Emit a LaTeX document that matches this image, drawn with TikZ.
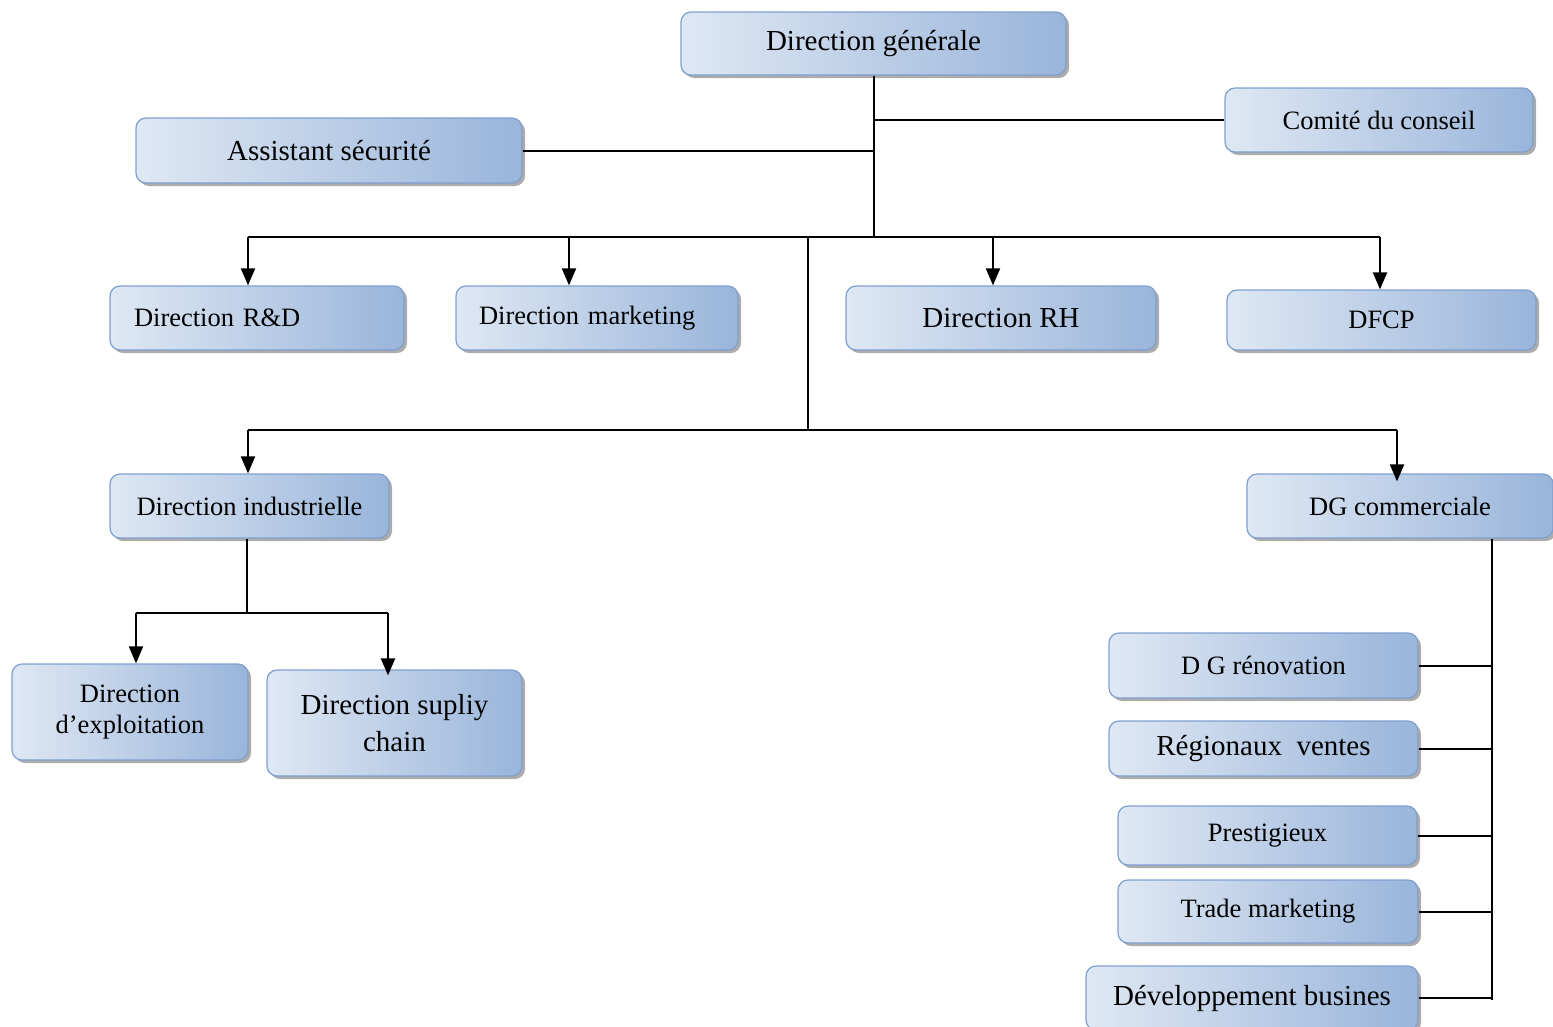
\documentclass[tikz,border=0pt]{standalone}
\usepackage{fontspec}
\setmainfont{Liberation Serif}
\usetikzlibrary{positioning, arrows.meta, shadows}
\definecolor{boxlight}{HTML}{DFE8F4}
\definecolor{boxmid}{HTML}{D2DFEF}
\definecolor{boxdark}{HTML}{99B5DA}
\definecolor{boxline}{HTML}{7F9FCF}
\newcommand{\smalltxt}{\fontsize{26.5}{31}\selectfont}
\newcommand{\bigtxt}{\fontsize{29}{37}\selectfont}

\begin{document}
\begin{tikzpicture}[x=1pt, y=-1pt, line width=2pt,
    orgbox/.style={draw=boxline, line width=1.2pt, rounded corners=10pt,
      left color=boxlight, middle color=boxmid, right color=boxdark, align=center, inner sep=2pt,
      drop shadow={shadow xshift=3pt, shadow yshift=-3pt, fill=gray!65, opacity=1},
      font=\smalltxt},
    arr/.style={-{Triangle[width=14pt, length=17pt]}}]
    \useasboundingbox (0,0) rectangle (1553,1026);

    % boxes
    \node[orgbox, minimum width=385pt, minimum height=63pt, font=\bigtxt] (gen) at (873.5,43.5) {Direction générale};
    \node[orgbox, minimum width=386pt, minimum height=65pt, font=\bigtxt] (assist) at (329,150.5) {Assistant sécurité};
    \node[orgbox, minimum width=308pt, minimum height=64pt] (comite) at (1379,120) {Comité du conseil};
    \node[orgbox, text width=246pt, inner xsep=24pt, align=left, minimum height=64pt] (rd) at (257,318) {Direction R\&D};
    \node[orgbox, text width=236pt, inner xsep=23pt, align=left, minimum height=64pt] (mkt) at (597,318) {Direction marketing};
    \node[orgbox, minimum width=310pt, minimum height=64pt, font=\bigtxt] (rh) at (1001,318) {Direction RH};
    \node[orgbox, minimum width=309pt, minimum height=60pt] (dfcp) at (1381.5,320) {DFCP};
    \node[orgbox, minimum width=279pt, minimum height=64pt] (ind) at (249.5,506) {Direction industrielle};
    \node[orgbox, minimum width=306pt, minimum height=64pt] (com) at (1400,506) {DG commerciale};
    \node[orgbox, minimum width=236pt, minimum height=96pt] (expl) at (130,712) {Direction\\d’exploitation};
    \node[orgbox, minimum width=255pt, minimum height=106pt, font=\bigtxt] (sup) at (394.5,723) {Direction supliy\\chain};
    \node[orgbox, minimum width=309pt, minimum height=65pt] (renov) at (1263.5,665.5) {D G rénovation};
    \node[orgbox, minimum width=309pt, minimum height=55pt, font=\bigtxt] (reg) at (1263.5,748.5) {Régionaux\ \ ventes};
    \node[orgbox, minimum width=299pt, minimum height=59pt] (prest) at (1267.5,835.5) {Prestigieux};
    \node[orgbox, minimum width=300pt, minimum height=63pt] (trade) at (1268,911.5) {Trade marketing};
    \node[orgbox, minimum width=332pt, minimum height=64pt, font=\bigtxt] (dev) at (1252,998) {Développement busines};

    % top level
    \coordinate (bar) at (873.5,237);
    \draw (gen.south) -- (bar);
    \draw (assist.east) -- (assist.east -| gen.south);
    \draw (comite.west) -- (comite.west -| gen.south);

    % second level
    \coordinate (a1) at (248,237);
    \coordinate (a2) at (569,237);
    \coordinate (a3) at (993,237);
    \coordinate (a4) at (1380,237);
    \draw (a1) -- (a4);
    \draw[arr] (a1) -- (a1 |- rd.north);
    \draw[arr] (a2) -- (a2 |- mkt.north);
    \draw[arr] (a3) -- (a3 |- rh.north);
    \draw[arr] (a4) -- (a4 |- dfcp.north);

    % third level
    \coordinate (mid) at (808,237);
    \coordinate (bar2) at (808,430);
    \coordinate (a5) at (248,430);
    \coordinate (a6) at (1397,430);
    \draw (mid) -- (bar2);
    \draw (a5) -- (a6);
    \draw[arr] (a5) -- (a5 |- ind.north);
    \draw[arr] (a6) -- ([yshift=-8pt]a6 |- com.north);

    % industrielle
    \coordinate (a7) at (247,613);
    \coordinate (a8) at (136,613);
    \coordinate (a9) at (388,613);
    \draw (ind.south -| a7) -- (a7);
    \draw (a8) -- (a9);
    \draw[arr] (a8) -- (a8 |- expl.north);
    \draw[arr] (a9) -- ([yshift=-6pt]a9 |- sup.north);

    % commerciale
    \coordinate (rail) at (1492,1000);
    \draw (com.south -| rail) -- (rail);
    \foreach \b in {renov, reg, prest, trade, dev}
      \draw (\b.east) -- (\b.east -| rail);
\end{tikzpicture}
\end{document}
